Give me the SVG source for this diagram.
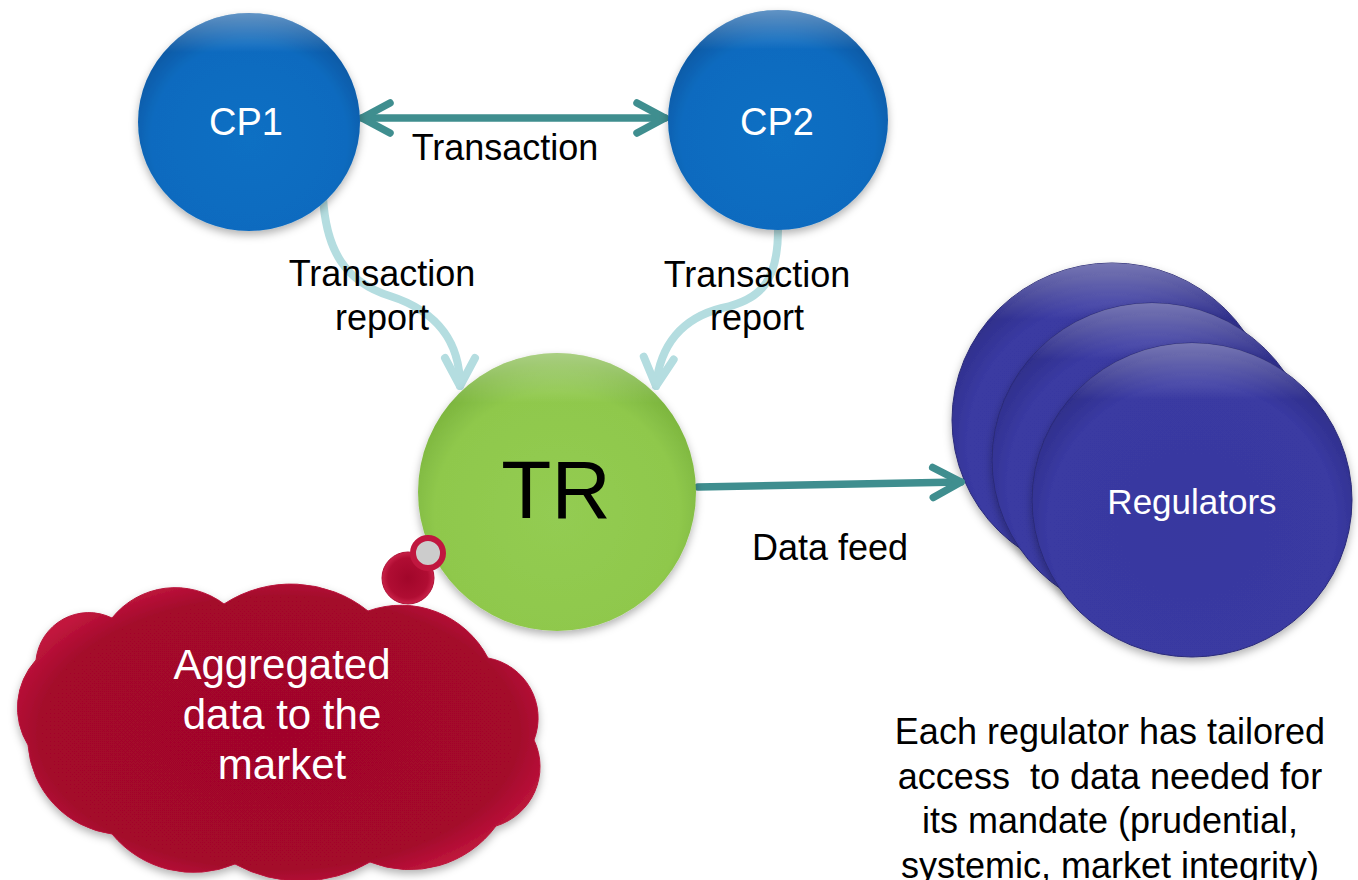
<svg xmlns="http://www.w3.org/2000/svg" width="1358" height="880" viewBox="0 0 1358 880">
  <style>
    text { font-family: "Liberation Sans", Arial, sans-serif; text-anchor: middle; }
    .lbl { font-size: 36px; fill: #000; }
    .wlbl { font-size: 38px; fill: #fff; }
    .teal { fill: none; stroke: #3f8e8f; stroke-width: 7.5; stroke-linecap: round; }
    .lb { fill: none; stroke: #b4dde0; stroke-width: 8; stroke-linecap: round; }
  </style>
  <defs>
    <radialGradient id="gBlue" cx="50%" cy="58%" r="55%">
      <stop offset="0" stop-color="#0e6fc3"/>
      <stop offset="0.8" stop-color="#0b6bbf"/>
      <stop offset="1" stop-color="#0a5aa6"/>
    </radialGradient>
    <radialGradient id="gGreen" cx="50%" cy="58%" r="55%">
      <stop offset="0" stop-color="#93cc52"/>
      <stop offset="0.8" stop-color="#8fc84c"/>
      <stop offset="1" stop-color="#7db63f"/>
    </radialGradient>
    <radialGradient id="gPurple" cx="50%" cy="58%" r="55%">
      <stop offset="0" stop-color="#38389f"/>
      <stop offset="0.82" stop-color="#3a3aa2"/>
      <stop offset="1" stop-color="#2f2f8c"/>
    </radialGradient>
    <radialGradient id="gRed" cx="50%" cy="50%" r="55%">
      <stop offset="0" stop-color="#a1062a"/>
      <stop offset="0.84" stop-color="#a4072c"/>
      <stop offset="1" stop-color="#c2173e"/>
    </radialGradient>
    <radialGradient id="gRedB" cx="50%" cy="50%" r="55%">
      <stop offset="0" stop-color="#a1062a"/>
      <stop offset="0.7" stop-color="#b00d33"/>
      <stop offset="1" stop-color="#d42a52"/>
    </radialGradient>
    <linearGradient id="gShine" x1="0" y1="0" x2="0" y2="1">
      <stop offset="0" stop-color="#ffffff" stop-opacity="0.35"/>
      <stop offset="0.18" stop-color="#ffffff" stop-opacity="0"/>
      <stop offset="1" stop-color="#ffffff" stop-opacity="0"/>
    </linearGradient>
    <filter id="shadow" x="-10%" y="-10%" width="120%" height="125%">
      <feDropShadow dx="0" dy="4" stdDeviation="4" flood-color="#000" flood-opacity="0.3"/>
    </filter>
    <marker id="mTeal" markerUnits="userSpaceOnUse" viewBox="-40 -20 44 40" refX="0" refY="0" markerWidth="44" markerHeight="40" orient="auto-start-reverse">
      <path d="M-28,-15 L0,0 L-28,15" fill="none" stroke="#3f8e8f" stroke-width="7.5" stroke-linecap="round" stroke-linejoin="round"/>
    </marker>
    <marker id="mLB" markerUnits="userSpaceOnUse" viewBox="-40 -20 44 40" refX="0" refY="0" markerWidth="44" markerHeight="40" orient="auto">
      <path d="M-28,-15 L0,0 L-28,15" fill="none" stroke="#b4dde0" stroke-width="8" stroke-linecap="round" stroke-linejoin="round"/>
    </marker>
  </defs>

  <!-- Regulators (stack) -->
  <g id="regulators">
    <ellipse cx="1112" cy="420" rx="160" ry="157" fill="url(#gPurple)" stroke="#2a2a78" stroke-width="1" filter="url(#shadow)"/>
    <ellipse cx="1112" cy="420" rx="160" ry="157" fill="url(#gShine)"/>
    <ellipse cx="1152" cy="460" rx="160" ry="157" fill="url(#gPurple)" stroke="#2a2a78" stroke-width="1" filter="url(#shadow)"/>
    <ellipse cx="1152" cy="460" rx="160" ry="157" fill="url(#gShine)"/>
    <ellipse cx="1192" cy="500" rx="160" ry="157" fill="url(#gPurple)" stroke="#2a2a78" stroke-width="1" filter="url(#shadow)"/>
    <ellipse cx="1192" cy="500" rx="160" ry="157" fill="url(#gShine)"/>
    <text x="1192" y="514" style="font-size:35px;fill:#fff">Regulators</text>
  </g>

  <!-- Cloud -->
  <g id="cloud">
    <path d="M28,745 A71,71 0 0 1 36,660 A53,53 0 0 1 112,618 A81,81 0 0 1 224,604 A123,123 0 0 1 368,611 A98,98 0 0 1 488,658 A61,61 0 0 1 534,740 A62,62 0 0 1 496,826 A107,107 0 0 1 370,862 A136,136 0 0 1 235,864 A106,106 0 0 1 112,834 A97,97 0 0 1 28,745 Z" fill="url(#gRed)" stroke="#b8143a" stroke-width="1" filter="url(#shadow)"/>
    <text x="282" y="679" style="font-size:42px;fill:#fff">Aggregated</text>
    <text x="282" y="729" style="font-size:42px;fill:#fff">data to the</text>
    <text x="282" y="779" style="font-size:42px;fill:#fff">market</text>
  </g>

  <!-- Connectors -->
  <g id="connectors">
    <line x1="362" y1="118" x2="665" y2="118" class="teal" marker-start="url(#mTeal)" marker-end="url(#mTeal)"/>
    <line x1="698" y1="487" x2="961" y2="482" class="teal" marker-end="url(#mTeal)"/>
    <path d="M323,197 C326,250 345,282 390,296 C440,312 460,345 460,386" class="lb" marker-end="url(#mLB)"/>
    <path d="M778,230 C778,282 760,300 722,308 C682,318 660,345 656,386" class="lb" marker-end="url(#mLB)"/>
    <text x="505" y="160" class="lbl">Transaction</text>
    <text x="382" y="286" class="lbl">Transaction</text>
    <text x="382" y="330" class="lbl">report</text>
    <text x="757" y="287" class="lbl">Transaction</text>
    <text x="757" y="330" class="lbl">report</text>
    <text x="830" y="560" class="lbl">Data feed</text>
  </g>

  <!-- CP1 -->
  <g id="cp1">
    <ellipse cx="249" cy="122" rx="111" ry="109" fill="url(#gBlue)" filter="url(#shadow)"/>
    <ellipse cx="249" cy="122" rx="111" ry="109" fill="url(#gShine)"/>
    <text x="246" y="135" class="wlbl">CP1</text>
  </g>

  <!-- CP2 -->
  <g id="cp2">
    <ellipse cx="778" cy="120" rx="110" ry="110" fill="url(#gBlue)" filter="url(#shadow)"/>
    <ellipse cx="778" cy="120" rx="110" ry="110" fill="url(#gShine)"/>
    <text x="777" y="135" class="wlbl">CP2</text>
  </g>

  <!-- TR -->
  <g id="tr">
    <circle cx="557" cy="492" r="139" fill="url(#gGreen)" filter="url(#shadow)"/>
    <circle cx="557" cy="492" r="139" fill="url(#gShine)"/>
    <text x="556" y="518" style="font-size:82px;fill:#000">TR</text>
  </g>

  <!-- Thought bubbles -->
  <g id="bubbles">
    <circle cx="408" cy="578" r="26" fill="url(#gRedB)" stroke="#b01035" stroke-width="1"/>
    <circle cx="428" cy="553" r="15" fill="#cccccc" stroke="#c0173f" stroke-width="6"/>
  </g>

  <!-- Note -->
  <g id="note">
    <text x="1110" y="744" class="lbl">Each regulator has tailored</text>
    <text x="1110" y="789" class="lbl" xml:space="preserve">access  to data needed for</text>
    <text x="1110" y="833" class="lbl">its mandate (prudential,</text>
    <text x="1110" y="878" class="lbl">systemic, market integrity)</text>
  </g>
</svg>
